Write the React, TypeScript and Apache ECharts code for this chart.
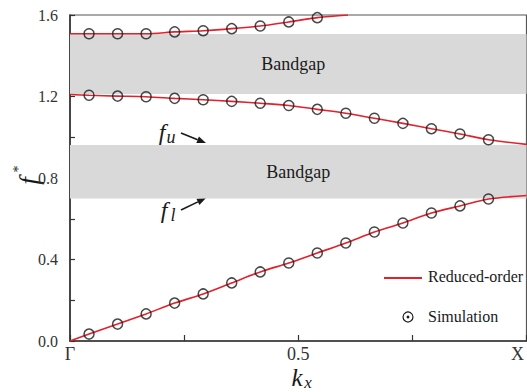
import React, { useEffect, useRef } from "react";
import * as echarts from "echarts";

// Wave-number samples (Γ = 0, X = 1)
const kSim = [0.0417, 0.1042, 0.1667, 0.2292, 0.2917, 0.3542, 0.4167, 0.4792, 0.5417, 0.6042, 0.6667, 0.7292, 0.7917, 0.8542, 0.9167];
const kModel = [0, 0.0417, 0.1042, 0.1667, 0.2292, 0.2917, 0.3542, 0.4167, 0.4792, 0.5417, 0.6042, 0.6667, 0.7292, 0.7917, 0.8542, 0.9167, 1];
const kModelTop = [0, 0.0417, 0.1042, 0.1667, 0.2292, 0.2917, 0.3542, 0.4167, 0.4792, 0.5417, 0.609];

// Simulated dimensionless frequencies f*
const band1Sim = [0.034, 0.083, 0.133, 0.186, 0.231, 0.285, 0.339, 0.383, 0.432, 0.481, 0.535, 0.579, 0.628, 0.663, 0.697];
const band2Sim = [1.206, 1.202, 1.199, 1.191, 1.184, 1.176, 1.167, 1.156, 1.137, 1.118, 1.093, 1.068, 1.042, 1.016, 0.988];
const band3Sim = [1.508, 1.508, 1.508, 1.517, 1.523, 1.533, 1.546, 1.566, 1.587];

// Reduced-order model curves
const band1Model = [0, 0.034, 0.083, 0.133, 0.186, 0.231, 0.285, 0.339, 0.383, 0.432, 0.481, 0.535, 0.579, 0.628, 0.663, 0.697, 0.714];
const band2Model = [1.21, 1.206, 1.202, 1.199, 1.191, 1.184, 1.176, 1.167, 1.156, 1.137, 1.118, 1.093, 1.068, 1.042, 1.016, 0.988, 0.965];
const band3Model = [1.508, 1.508, 1.508, 1.508, 1.517, 1.523, 1.533, 1.546, 1.566, 1.587, 1.6];

// Band gaps [lower, upper]
const gap1 = [1.212, 1.507];
const gap2 = [0.7, 0.962];

const xTickLabels: Record<string, string> = { "0": "Γ", "0.5": "0.5", "1": "{x|X}" };

const SERIF = "'Liberation Serif', 'DejaVu Serif', serif";
const RED = "#e3202b";
const INK = "#1a1a1a";

const zip = (xs: number[], ys: number[]) => ys.map((y, i) => [xs[i], y]);

export default function App() {
  const ref = useRef<HTMLDivElement>(null);

  useEffect(() => {
    document.body.style.margin = "0";
    if (!ref.current) return;
    const chart = echarts.init(ref.current, null, { renderer: "svg" });

    const lineStyle = { color: RED, width: 1.6 };
    const simStyle = {
      color: "rgba(0,0,0,0)",
      borderColor: INK,
      borderWidth: 1.5,
    };

    const arrow = (x1: number, y1: number, x2: number, y2: number) => {
      const dx = x2 - x1;
      const dy = y2 - y1;
      const len = Math.sqrt(dx * dx + dy * dy);
      const ux = dx / len;
      const uy = dy / len;
      const head = 9;
      const half = 3.5;
      const bx = x2 - head * ux;
      const by = y2 - head * uy;
      const nx = -uy;
      const ny = ux;
      return [
        {
          type: "line",
          shape: { x1, y1, x2: bx, y2: by },
          style: { stroke: INK, lineWidth: 1.6 },
        },
        {
          type: "polygon",
          shape: {
            points: [
              [x2, y2],
              [bx + half * nx, by + half * ny],
              [bx - half * nx, by - half * ny],
            ],
          },
          style: { fill: INK },
        },
      ];
    };

    const txt = (x: number, y: number, text: string, size: number, italic = false, align = "center") => ({
      type: "text",
      x,
      y,
      style: {
        text,
        fontSize: size,
        fontFamily: SERIF,
        fontStyle: italic ? "italic" : "normal",
        fill: INK,
        align,
        verticalAlign: "middle",
      },
    });

    chart.setOption({
      animation: false,
      backgroundColor: "#ffffff",
      textStyle: { fontFamily: SERIF },
      grid: {
        left: 70,
        top: 15,
        width: 471,
        height: 326,
        show: true,
        borderColor: "#555",
        borderWidth: 1.2,
        backgroundColor: "rgba(0,0,0,0)",
      },
      xAxis: {
        type: "value",
        min: 0,
        max: 1,
        interval: 0.25,
        splitLine: { show: false },
        axisLine: { lineStyle: { color: "#333", width: 1.6 } },
        axisTick: { inside: true, length: 6, lineStyle: { color: "#333", width: 1.2 } },
        axisLabel: {
          fontFamily: SERIF,
          fontSize: 18,
          color: "#333",
          margin: 4,
          formatter: (v: number) => xTickLabels[String(v)] ?? "",
          rich: {
            x: { fontFamily: SERIF, fontSize: 18, color: "#333", padding: [0, 18, 0, 0] },
          },
        },
      },
      yAxis: {
        type: "value",
        min: 0,
        max: 1.6,
        interval: 0.2,
        splitLine: { show: false },
        axisLine: { lineStyle: { color: "#333", width: 1.6 } },
        axisTick: { inside: true, length: 5, lineStyle: { color: "#333", width: 1.2 } },
        axisLabel: {
          fontFamily: SERIF,
          fontSize: 16,
          color: "#333",
          margin: 12,
          formatter: (v: number) => {
            const q = v / 0.4;
            return Math.abs(q - Math.round(q)) < 1e-6 ? v.toFixed(1) : "";
          },
        },
      },
      series: [
        {
          name: "Reduced-order",
          type: "line",
          data: zip(kModel, band1Model),
          showSymbol: false,
          smooth: 0.3,
          lineStyle,
          z: 3,
          markArea: {
            silent: true,
            itemStyle: { color: "#d9d9d9" },
            label: {
              position: "inside",
              fontFamily: SERIF,
              fontSize: 18,
              color: INK,
            },
            data: [
              [
                { name: "Bandgap", yAxis: gap1[0], label: { offset: [-5, 0] } },
                { yAxis: gap1[1] },
              ],
              [{ name: "Bandgap", yAxis: gap2[0] }, { yAxis: gap2[1] }],
            ],
          },
        },
        {
          name: "Reduced-order",
          type: "line",
          data: zip(kModel, band2Model),
          showSymbol: false,
          smooth: 0.3,
          lineStyle,
          z: 3,
        },
        {
          name: "Reduced-order",
          type: "line",
          data: zip(kModelTop, band3Model),
          showSymbol: false,
          smooth: 0.3,
          lineStyle,
          z: 3,
        },
        {
          name: "Simulation",
          type: "scatter",
          data: zip(kSim, band1Sim),
          symbol: "circle",
          symbolSize: 10,
          itemStyle: simStyle,
          z: 4,
        },
        {
          name: "Simulation",
          type: "scatter",
          data: zip(kSim, band2Sim),
          symbol: "circle",
          symbolSize: 10,
          itemStyle: simStyle,
          z: 4,
        },
        {
          name: "Simulation",
          type: "scatter",
          data: zip(kSim, band3Sim),
          symbol: "circle",
          symbolSize: 10,
          itemStyle: simStyle,
          z: 4,
        },
      ],
      graphic: [
        // y-axis title f*
        {
          type: "group",
          x: 29,
          y: 181,
          rotation: Math.PI / 2,
          children: [
            txt(0, 0, "f", 27, true),
            txt(12, -11, "*", 14, false),
          ],
        },
        // x-axis title k_x
        txt(297, 377, "k", 25, true),
        txt(308, 382, "x", 17, true),
        // edge annotations
        txt(162, 132, "f", 24, true),
        txt(171, 137, "u", 18, true),
        ...arrow(181, 133, 206, 143),
        txt(164, 210, "f", 24, true),
        txt(173, 215, "l", 18, true),
        ...arrow(181, 210, 206, 198),
        // legend
        {
          type: "line",
          shape: { x1: 384, y1: 278, x2: 422, y2: 278 },
          style: { stroke: RED, lineWidth: 2.2 },
        },
        txt(428, 276, "Reduced-order", 16, false, "left"),
        {
          type: "circle",
          shape: { cx: 408, cy: 317, r: 5 },
          style: { fill: "none", stroke: INK, lineWidth: 1.2 },
        },
        {
          type: "circle",
          shape: { cx: 408, cy: 317, r: 1.4 },
          style: { fill: INK },
        },
        txt(428, 316, "Simulation", 16, false, "left"),
      ],
    });

    return () => chart.dispose();
  }, []);

  return <div ref={ref} style={{ width: 527, height: 392 }} />;
}
